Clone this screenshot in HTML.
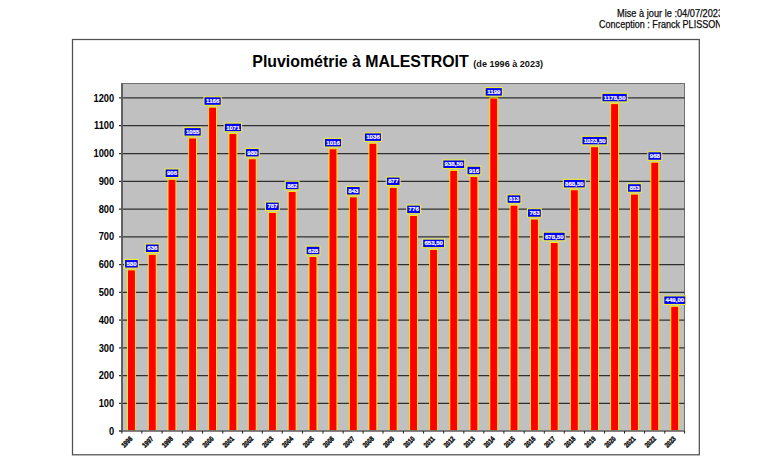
<!DOCTYPE html><html><head><meta charset="utf-8"><style>html,body{margin:0;padding:0;background:#fff;width:768px;height:464px;overflow:hidden;position:relative}svg{display:block;position:absolute;left:0;top:0;font-family:"Liberation Sans",sans-serif}.hdr{position:absolute;left:560px;top:0;width:160.2px;height:40px;overflow:hidden;font-family:"Liberation Sans",sans-serif;font-size:10.2px;line-height:12px;color:#000;-webkit-text-stroke:0.25px #222;white-space:nowrap;z-index:2}.hdr div{position:absolute;transform-origin:0 0;transform:scaleX(0.9)}</style></head><body><svg width="768" height="464" viewBox="0 0 768 464"><rect x="72.5" y="39.5" width="626.8" height="415.3" fill="none" stroke="#505050" stroke-width="1.25"/><text x="252.3" y="66.9" font-size="15.9" font-weight="bold" fill="#000">Pluviométrie à MALESTROIT</text><text x="473.3" y="66.8" font-size="9.1" font-weight="bold" fill="#111">(de 1996 à 2023)</text><defs><clipPath id="pc"><rect x="0" y="0" width="768" height="430.6"/></clipPath></defs><rect x="121.5" y="83.5" width="563.0" height="347.5" fill="#C0C0C0" stroke="#707070" stroke-width="1"/><line x1="119" y1="403.48" x2="684.5" y2="403.48" stroke="#303030" stroke-width="1.25"/><text transform="translate(114.2,407.12) scale(0.93,1)" font-size="10" font-weight="bold" text-anchor="end" fill="#000">100</text><line x1="119" y1="375.70" x2="684.5" y2="375.70" stroke="#303030" stroke-width="1.25"/><text transform="translate(114.2,379.35) scale(0.93,1)" font-size="10" font-weight="bold" text-anchor="end" fill="#000">200</text><line x1="119" y1="347.93" x2="684.5" y2="347.93" stroke="#303030" stroke-width="1.25"/><text transform="translate(114.2,351.57) scale(0.93,1)" font-size="10" font-weight="bold" text-anchor="end" fill="#000">300</text><line x1="119" y1="320.15" x2="684.5" y2="320.15" stroke="#303030" stroke-width="1.25"/><text transform="translate(114.2,323.80) scale(0.93,1)" font-size="10" font-weight="bold" text-anchor="end" fill="#000">400</text><line x1="119" y1="292.38" x2="684.5" y2="292.38" stroke="#303030" stroke-width="1.25"/><text transform="translate(114.2,296.02) scale(0.93,1)" font-size="10" font-weight="bold" text-anchor="end" fill="#000">500</text><line x1="119" y1="264.60" x2="684.5" y2="264.60" stroke="#303030" stroke-width="1.25"/><text transform="translate(114.2,268.25) scale(0.93,1)" font-size="10" font-weight="bold" text-anchor="end" fill="#000">600</text><line x1="119" y1="236.82" x2="684.5" y2="236.82" stroke="#303030" stroke-width="1.25"/><text transform="translate(114.2,240.47) scale(0.93,1)" font-size="10" font-weight="bold" text-anchor="end" fill="#000">700</text><line x1="119" y1="209.05" x2="684.5" y2="209.05" stroke="#303030" stroke-width="1.25"/><text transform="translate(114.2,212.70) scale(0.93,1)" font-size="10" font-weight="bold" text-anchor="end" fill="#000">800</text><line x1="119" y1="181.28" x2="684.5" y2="181.28" stroke="#303030" stroke-width="1.25"/><text transform="translate(114.2,184.93) scale(0.93,1)" font-size="10" font-weight="bold" text-anchor="end" fill="#000">900</text><line x1="119" y1="153.50" x2="684.5" y2="153.50" stroke="#303030" stroke-width="1.25"/><text transform="translate(114.2,157.15) scale(0.93,1)" font-size="10" font-weight="bold" text-anchor="end" fill="#000">1000</text><line x1="119" y1="125.73" x2="684.5" y2="125.73" stroke="#303030" stroke-width="1.25"/><text transform="translate(114.2,129.38) scale(0.93,1)" font-size="10" font-weight="bold" text-anchor="end" fill="#000">1100</text><line x1="119" y1="97.95" x2="684.5" y2="97.95" stroke="#303030" stroke-width="1.25"/><text transform="translate(114.2,101.60) scale(0.93,1)" font-size="10" font-weight="bold" text-anchor="end" fill="#000">1200</text><text transform="translate(114.2,434.90) scale(0.93,1)" font-size="10" font-weight="bold" text-anchor="end" fill="#000">0</text><rect x="127.50" y="269.90" width="7.9" height="166.10" fill="#FF0000" stroke="#FFF500" stroke-width="0.9" clip-path="url(#pc)"/><rect x="148.30" y="254.35" width="7.9" height="181.65" fill="#FF0000" stroke="#FFF500" stroke-width="0.9" clip-path="url(#pc)"/><rect x="168.02" y="179.36" width="7.9" height="256.64" fill="#FF0000" stroke="#FFF500" stroke-width="0.9" clip-path="url(#pc)"/><rect x="188.65" y="137.97" width="7.9" height="298.03" fill="#FF0000" stroke="#FFF500" stroke-width="0.9" clip-path="url(#pc)"/><rect x="208.65" y="107.14" width="7.9" height="328.86" fill="#FF0000" stroke="#FFF500" stroke-width="0.9" clip-path="url(#pc)"/><rect x="228.95" y="133.53" width="7.9" height="302.47" fill="#FF0000" stroke="#FFF500" stroke-width="0.9" clip-path="url(#pc)"/><rect x="248.30" y="158.81" width="7.9" height="277.19" fill="#FF0000" stroke="#FFF500" stroke-width="0.9" clip-path="url(#pc)"/><rect x="268.45" y="212.41" width="7.9" height="223.59" fill="#FF0000" stroke="#FFF500" stroke-width="0.9" clip-path="url(#pc)"/><rect x="288.20" y="191.58" width="7.9" height="244.42" fill="#FF0000" stroke="#FFF500" stroke-width="0.9" clip-path="url(#pc)"/><rect x="309.05" y="256.57" width="7.9" height="179.43" fill="#FF0000" stroke="#FFF500" stroke-width="0.9" clip-path="url(#pc)"/><rect x="329.05" y="148.81" width="7.9" height="287.19" fill="#FF0000" stroke="#FFF500" stroke-width="0.9" clip-path="url(#pc)"/><rect x="349.35" y="196.86" width="7.9" height="239.14" fill="#FF0000" stroke="#FFF500" stroke-width="0.9" clip-path="url(#pc)"/><rect x="368.95" y="143.25" width="7.9" height="292.75" fill="#FF0000" stroke="#FFF500" stroke-width="0.9" clip-path="url(#pc)"/><rect x="389.25" y="187.41" width="7.9" height="248.59" fill="#FF0000" stroke="#FFF500" stroke-width="0.9" clip-path="url(#pc)"/><rect x="409.65" y="215.47" width="7.9" height="220.53" fill="#FF0000" stroke="#FFF500" stroke-width="0.9" clip-path="url(#pc)"/><rect x="429.65" y="249.49" width="7.9" height="186.51" fill="#FF0000" stroke="#FFF500" stroke-width="0.9" clip-path="url(#pc)"/><rect x="449.80" y="170.33" width="7.9" height="265.67" fill="#FF0000" stroke="#FFF500" stroke-width="0.9" clip-path="url(#pc)"/><rect x="469.95" y="176.58" width="7.9" height="259.42" fill="#FF0000" stroke="#FFF500" stroke-width="0.9" clip-path="url(#pc)"/><rect x="489.80" y="97.98" width="7.9" height="338.02" fill="#FF0000" stroke="#FFF500" stroke-width="0.9" clip-path="url(#pc)"/><rect x="510.05" y="205.19" width="7.9" height="230.81" fill="#FF0000" stroke="#FFF500" stroke-width="0.9" clip-path="url(#pc)"/><rect x="530.45" y="219.08" width="7.9" height="216.92" fill="#FF0000" stroke="#FFF500" stroke-width="0.9" clip-path="url(#pc)"/><rect x="550.25" y="242.55" width="7.9" height="193.45" fill="#FF0000" stroke="#FFF500" stroke-width="0.9" clip-path="url(#pc)"/><rect x="570.35" y="189.77" width="7.9" height="246.23" fill="#FF0000" stroke="#FFF500" stroke-width="0.9" clip-path="url(#pc)"/><rect x="590.65" y="146.72" width="7.9" height="289.28" fill="#FF0000" stroke="#FFF500" stroke-width="0.9" clip-path="url(#pc)"/><rect x="610.65" y="103.67" width="7.9" height="332.33" fill="#FF0000" stroke="#FFF500" stroke-width="0.9" clip-path="url(#pc)"/><rect x="630.45" y="194.08" width="7.9" height="241.92" fill="#FF0000" stroke="#FFF500" stroke-width="0.9" clip-path="url(#pc)"/><rect x="650.85" y="162.14" width="7.9" height="273.86" fill="#FF0000" stroke="#FFF500" stroke-width="0.9" clip-path="url(#pc)"/><rect x="670.80" y="306.29" width="7.9" height="129.71" fill="#FF0000" stroke="#FFF500" stroke-width="0.9" clip-path="url(#pc)"/><line x1="122.1" y1="83.5" x2="122.1" y2="431.8" stroke="#606060" stroke-width="1.8"/><line x1="121.5" y1="431.0" x2="685.0" y2="431.0" stroke="#707070" stroke-width="1.6"/><line x1="119" y1="431.0" x2="121.5" y2="431.0" stroke="#303030" stroke-width="1.5"/><line x1="121.90" y1="431.0" x2="121.90" y2="433.6" stroke="#202020" stroke-width="1"/><line x1="141.85" y1="431.0" x2="141.85" y2="433.6" stroke="#202020" stroke-width="1"/><line x1="162.11" y1="431.0" x2="162.11" y2="433.6" stroke="#202020" stroke-width="1"/><line x1="182.28" y1="431.0" x2="182.28" y2="433.6" stroke="#202020" stroke-width="1"/><line x1="202.60" y1="431.0" x2="202.60" y2="433.6" stroke="#202020" stroke-width="1"/><line x1="222.75" y1="431.0" x2="222.75" y2="433.6" stroke="#202020" stroke-width="1"/><line x1="242.57" y1="431.0" x2="242.57" y2="433.6" stroke="#202020" stroke-width="1"/><line x1="262.32" y1="431.0" x2="262.32" y2="433.6" stroke="#202020" stroke-width="1"/><line x1="282.27" y1="431.0" x2="282.27" y2="433.6" stroke="#202020" stroke-width="1"/><line x1="302.57" y1="431.0" x2="302.57" y2="433.6" stroke="#202020" stroke-width="1"/><line x1="323.00" y1="431.0" x2="323.00" y2="433.6" stroke="#202020" stroke-width="1"/><line x1="343.15" y1="431.0" x2="343.15" y2="433.6" stroke="#202020" stroke-width="1"/><line x1="363.10" y1="431.0" x2="363.10" y2="433.6" stroke="#202020" stroke-width="1"/><line x1="383.05" y1="431.0" x2="383.05" y2="433.6" stroke="#202020" stroke-width="1"/><line x1="403.40" y1="431.0" x2="403.40" y2="433.6" stroke="#202020" stroke-width="1"/><line x1="423.60" y1="431.0" x2="423.60" y2="433.6" stroke="#202020" stroke-width="1"/><line x1="443.68" y1="431.0" x2="443.68" y2="433.6" stroke="#202020" stroke-width="1"/><line x1="463.82" y1="431.0" x2="463.82" y2="433.6" stroke="#202020" stroke-width="1"/><line x1="483.82" y1="431.0" x2="483.82" y2="433.6" stroke="#202020" stroke-width="1"/><line x1="503.88" y1="431.0" x2="503.88" y2="433.6" stroke="#202020" stroke-width="1"/><line x1="524.20" y1="431.0" x2="524.20" y2="433.6" stroke="#202020" stroke-width="1"/><line x1="544.30" y1="431.0" x2="544.30" y2="433.6" stroke="#202020" stroke-width="1"/><line x1="564.25" y1="431.0" x2="564.25" y2="433.6" stroke="#202020" stroke-width="1"/><line x1="584.45" y1="431.0" x2="584.45" y2="433.6" stroke="#202020" stroke-width="1"/><line x1="604.60" y1="431.0" x2="604.60" y2="433.6" stroke="#202020" stroke-width="1"/><line x1="624.50" y1="431.0" x2="624.50" y2="433.6" stroke="#202020" stroke-width="1"/><line x1="644.60" y1="431.0" x2="644.60" y2="433.6" stroke="#202020" stroke-width="1"/><line x1="664.77" y1="431.0" x2="664.77" y2="433.6" stroke="#202020" stroke-width="1"/><line x1="684.60" y1="431.0" x2="684.60" y2="433.6" stroke="#202020" stroke-width="1"/><rect x="124.52" y="259.50" width="13.85" height="8.6" fill="#0000FF" stroke="#EEEE30" stroke-width="1.1"/><text x="131.55" y="265.90" font-size="6.1" font-weight="bold" text-anchor="middle" fill="#fff" stroke="#fff" stroke-width="0.2">580</text><text transform="translate(133.05,439.20) rotate(-45) scale(0.9,1.12)" font-size="6.3" font-weight="bold" text-anchor="end" fill="#111" stroke="#111" stroke-width="0.4">1996</text><rect x="145.32" y="243.95" width="13.85" height="8.6" fill="#0000FF" stroke="#EEEE30" stroke-width="1.1"/><text x="152.35" y="250.35" font-size="6.1" font-weight="bold" text-anchor="middle" fill="#fff" stroke="#fff" stroke-width="0.2">636</text><text transform="translate(153.85,439.20) rotate(-45) scale(0.9,1.12)" font-size="6.3" font-weight="bold" text-anchor="end" fill="#111" stroke="#111" stroke-width="0.4">1997</text><rect x="165.04" y="168.96" width="13.85" height="8.6" fill="#0000FF" stroke="#EEEE30" stroke-width="1.1"/><text x="172.07" y="175.36" font-size="6.1" font-weight="bold" text-anchor="middle" fill="#fff" stroke="#fff" stroke-width="0.2">906</text><text transform="translate(173.57,439.20) rotate(-45) scale(0.9,1.12)" font-size="6.3" font-weight="bold" text-anchor="end" fill="#111" stroke="#111" stroke-width="0.4">1998</text><rect x="183.95" y="127.57" width="17.30" height="8.6" fill="#0000FF" stroke="#EEEE30" stroke-width="1.1"/><text x="192.70" y="133.97" font-size="6.1" font-weight="bold" text-anchor="middle" fill="#fff" stroke="#fff" stroke-width="0.2">1055</text><text transform="translate(194.20,439.20) rotate(-45) scale(0.9,1.12)" font-size="6.3" font-weight="bold" text-anchor="end" fill="#111" stroke="#111" stroke-width="0.4">1999</text><rect x="203.95" y="96.74" width="17.30" height="8.6" fill="#0000FF" stroke="#EEEE30" stroke-width="1.1"/><text x="212.70" y="103.14" font-size="6.1" font-weight="bold" text-anchor="middle" fill="#fff" stroke="#fff" stroke-width="0.2">1166</text><text transform="translate(214.20,439.20) rotate(-45) scale(0.9,1.12)" font-size="6.3" font-weight="bold" text-anchor="end" fill="#111" stroke="#111" stroke-width="0.4">2000</text><rect x="224.25" y="123.13" width="17.30" height="8.6" fill="#0000FF" stroke="#EEEE30" stroke-width="1.1"/><text x="233.00" y="129.53" font-size="6.1" font-weight="bold" text-anchor="middle" fill="#fff" stroke="#fff" stroke-width="0.2">1071</text><text transform="translate(234.50,439.20) rotate(-45) scale(0.9,1.12)" font-size="6.3" font-weight="bold" text-anchor="end" fill="#111" stroke="#111" stroke-width="0.4">2001</text><rect x="245.32" y="148.41" width="13.85" height="8.6" fill="#0000FF" stroke="#EEEE30" stroke-width="1.1"/><text x="252.35" y="154.81" font-size="6.1" font-weight="bold" text-anchor="middle" fill="#fff" stroke="#fff" stroke-width="0.2">980</text><text transform="translate(253.85,439.20) rotate(-45) scale(0.9,1.12)" font-size="6.3" font-weight="bold" text-anchor="end" fill="#111" stroke="#111" stroke-width="0.4">2002</text><rect x="265.47" y="202.01" width="13.85" height="8.6" fill="#0000FF" stroke="#EEEE30" stroke-width="1.1"/><text x="272.50" y="208.41" font-size="6.1" font-weight="bold" text-anchor="middle" fill="#fff" stroke="#fff" stroke-width="0.2">787</text><text transform="translate(274.00,439.20) rotate(-45) scale(0.9,1.12)" font-size="6.3" font-weight="bold" text-anchor="end" fill="#111" stroke="#111" stroke-width="0.4">2003</text><rect x="285.22" y="181.18" width="13.85" height="8.6" fill="#0000FF" stroke="#EEEE30" stroke-width="1.1"/><text x="292.25" y="187.58" font-size="6.1" font-weight="bold" text-anchor="middle" fill="#fff" stroke="#fff" stroke-width="0.2">862</text><text transform="translate(293.75,439.20) rotate(-45) scale(0.9,1.12)" font-size="6.3" font-weight="bold" text-anchor="end" fill="#111" stroke="#111" stroke-width="0.4">2004</text><rect x="306.07" y="246.17" width="13.85" height="8.6" fill="#0000FF" stroke="#EEEE30" stroke-width="1.1"/><text x="313.10" y="252.57" font-size="6.1" font-weight="bold" text-anchor="middle" fill="#fff" stroke="#fff" stroke-width="0.2">628</text><text transform="translate(314.60,439.20) rotate(-45) scale(0.9,1.12)" font-size="6.3" font-weight="bold" text-anchor="end" fill="#111" stroke="#111" stroke-width="0.4">2005</text><rect x="324.35" y="138.41" width="17.30" height="8.6" fill="#0000FF" stroke="#EEEE30" stroke-width="1.1"/><text x="333.10" y="144.81" font-size="6.1" font-weight="bold" text-anchor="middle" fill="#fff" stroke="#fff" stroke-width="0.2">1016</text><text transform="translate(334.60,439.20) rotate(-45) scale(0.9,1.12)" font-size="6.3" font-weight="bold" text-anchor="end" fill="#111" stroke="#111" stroke-width="0.4">2006</text><rect x="346.38" y="186.46" width="13.85" height="8.6" fill="#0000FF" stroke="#EEEE30" stroke-width="1.1"/><text x="353.40" y="192.86" font-size="6.1" font-weight="bold" text-anchor="middle" fill="#fff" stroke="#fff" stroke-width="0.2">843</text><text transform="translate(354.90,439.20) rotate(-45) scale(0.9,1.12)" font-size="6.3" font-weight="bold" text-anchor="end" fill="#111" stroke="#111" stroke-width="0.4">2007</text><rect x="364.25" y="132.85" width="17.30" height="8.6" fill="#0000FF" stroke="#EEEE30" stroke-width="1.1"/><text x="373.00" y="139.25" font-size="6.1" font-weight="bold" text-anchor="middle" fill="#fff" stroke="#fff" stroke-width="0.2">1036</text><text transform="translate(374.50,439.20) rotate(-45) scale(0.9,1.12)" font-size="6.3" font-weight="bold" text-anchor="end" fill="#111" stroke="#111" stroke-width="0.4">2008</text><rect x="386.27" y="177.01" width="13.85" height="8.6" fill="#0000FF" stroke="#EEEE30" stroke-width="1.1"/><text x="393.30" y="183.41" font-size="6.1" font-weight="bold" text-anchor="middle" fill="#fff" stroke="#fff" stroke-width="0.2">877</text><text transform="translate(394.80,439.20) rotate(-45) scale(0.9,1.12)" font-size="6.3" font-weight="bold" text-anchor="end" fill="#111" stroke="#111" stroke-width="0.4">2009</text><rect x="406.68" y="205.07" width="13.85" height="8.6" fill="#0000FF" stroke="#EEEE30" stroke-width="1.1"/><text x="413.70" y="211.47" font-size="6.1" font-weight="bold" text-anchor="middle" fill="#fff" stroke="#fff" stroke-width="0.2">776</text><text transform="translate(415.20,439.20) rotate(-45) scale(0.9,1.12)" font-size="6.3" font-weight="bold" text-anchor="end" fill="#111" stroke="#111" stroke-width="0.4">2010</text><rect x="422.62" y="239.09" width="21.95" height="8.6" fill="#0000FF" stroke="#EEEE30" stroke-width="1.1"/><text x="433.70" y="245.49" font-size="6.1" font-weight="bold" text-anchor="middle" fill="#fff" stroke="#fff" stroke-width="0.2">653,50</text><text transform="translate(435.20,439.20) rotate(-45) scale(0.9,1.12)" font-size="6.3" font-weight="bold" text-anchor="end" fill="#111" stroke="#111" stroke-width="0.4">2011</text><rect x="442.77" y="159.93" width="21.95" height="8.6" fill="#0000FF" stroke="#EEEE30" stroke-width="1.1"/><text x="453.85" y="166.33" font-size="6.1" font-weight="bold" text-anchor="middle" fill="#fff" stroke="#fff" stroke-width="0.2">938,50</text><text transform="translate(455.35,439.20) rotate(-45) scale(0.9,1.12)" font-size="6.3" font-weight="bold" text-anchor="end" fill="#111" stroke="#111" stroke-width="0.4">2012</text><rect x="466.97" y="166.18" width="13.85" height="8.6" fill="#0000FF" stroke="#EEEE30" stroke-width="1.1"/><text x="474.00" y="172.58" font-size="6.1" font-weight="bold" text-anchor="middle" fill="#fff" stroke="#fff" stroke-width="0.2">916</text><text transform="translate(475.50,439.20) rotate(-45) scale(0.9,1.12)" font-size="6.3" font-weight="bold" text-anchor="end" fill="#111" stroke="#111" stroke-width="0.4">2013</text><rect x="485.10" y="87.58" width="17.30" height="8.6" fill="#0000FF" stroke="#EEEE30" stroke-width="1.1"/><text x="493.85" y="93.98" font-size="6.1" font-weight="bold" text-anchor="middle" fill="#fff" stroke="#fff" stroke-width="0.2">1199</text><text transform="translate(495.35,439.20) rotate(-45) scale(0.9,1.12)" font-size="6.3" font-weight="bold" text-anchor="end" fill="#111" stroke="#111" stroke-width="0.4">2014</text><rect x="507.07" y="194.79" width="13.85" height="8.6" fill="#0000FF" stroke="#EEEE30" stroke-width="1.1"/><text x="514.10" y="201.19" font-size="6.1" font-weight="bold" text-anchor="middle" fill="#fff" stroke="#fff" stroke-width="0.2">813</text><text transform="translate(515.60,439.20) rotate(-45) scale(0.9,1.12)" font-size="6.3" font-weight="bold" text-anchor="end" fill="#111" stroke="#111" stroke-width="0.4">2015</text><rect x="527.48" y="208.68" width="13.85" height="8.6" fill="#0000FF" stroke="#EEEE30" stroke-width="1.1"/><text x="534.50" y="215.08" font-size="6.1" font-weight="bold" text-anchor="middle" fill="#fff" stroke="#fff" stroke-width="0.2">763</text><text transform="translate(536.00,439.20) rotate(-45) scale(0.9,1.12)" font-size="6.3" font-weight="bold" text-anchor="end" fill="#111" stroke="#111" stroke-width="0.4">2016</text><rect x="543.23" y="232.15" width="21.95" height="8.6" fill="#0000FF" stroke="#EEEE30" stroke-width="1.1"/><text x="554.30" y="238.55" font-size="6.1" font-weight="bold" text-anchor="middle" fill="#fff" stroke="#fff" stroke-width="0.2">678,50</text><text transform="translate(555.80,439.20) rotate(-45) scale(0.9,1.12)" font-size="6.3" font-weight="bold" text-anchor="end" fill="#111" stroke="#111" stroke-width="0.4">2017</text><rect x="563.32" y="179.37" width="21.95" height="8.6" fill="#0000FF" stroke="#EEEE30" stroke-width="1.1"/><text x="574.40" y="185.77" font-size="6.1" font-weight="bold" text-anchor="middle" fill="#fff" stroke="#fff" stroke-width="0.2">868,50</text><text transform="translate(575.90,439.20) rotate(-45) scale(0.9,1.12)" font-size="6.3" font-weight="bold" text-anchor="end" fill="#111" stroke="#111" stroke-width="0.4">2018</text><rect x="581.90" y="136.32" width="25.40" height="8.6" fill="#0000FF" stroke="#EEEE30" stroke-width="1.1"/><text x="594.70" y="142.72" font-size="6.1" font-weight="bold" text-anchor="middle" fill="#fff" stroke="#fff" stroke-width="0.2">1023,50</text><text transform="translate(596.20,439.20) rotate(-45) scale(0.9,1.12)" font-size="6.3" font-weight="bold" text-anchor="end" fill="#111" stroke="#111" stroke-width="0.4">2019</text><rect x="601.90" y="93.27" width="25.40" height="8.6" fill="#0000FF" stroke="#EEEE30" stroke-width="1.1"/><text x="614.70" y="99.67" font-size="6.1" font-weight="bold" text-anchor="middle" fill="#fff" stroke="#fff" stroke-width="0.2">1178,50</text><text transform="translate(616.20,439.20) rotate(-45) scale(0.9,1.12)" font-size="6.3" font-weight="bold" text-anchor="end" fill="#111" stroke="#111" stroke-width="0.4">2020</text><rect x="627.48" y="183.68" width="13.85" height="8.6" fill="#0000FF" stroke="#EEEE30" stroke-width="1.1"/><text x="634.50" y="190.08" font-size="6.1" font-weight="bold" text-anchor="middle" fill="#fff" stroke="#fff" stroke-width="0.2">853</text><text transform="translate(636.00,439.20) rotate(-45) scale(0.9,1.12)" font-size="6.3" font-weight="bold" text-anchor="end" fill="#111" stroke="#111" stroke-width="0.4">2021</text><rect x="647.88" y="151.74" width="13.85" height="8.6" fill="#0000FF" stroke="#EEEE30" stroke-width="1.1"/><text x="654.90" y="158.14" font-size="6.1" font-weight="bold" text-anchor="middle" fill="#fff" stroke="#fff" stroke-width="0.2">968</text><text transform="translate(656.40,439.20) rotate(-45) scale(0.9,1.12)" font-size="6.3" font-weight="bold" text-anchor="end" fill="#111" stroke="#111" stroke-width="0.4">2022</text><rect x="663.77" y="295.89" width="21.95" height="8.6" fill="#0000FF" stroke="#EEEE30" stroke-width="1.1"/><text x="674.85" y="302.29" font-size="6.1" font-weight="bold" text-anchor="middle" fill="#fff" stroke="#fff" stroke-width="0.2">449,00</text><text transform="translate(676.35,439.20) rotate(-45) scale(0.9,1.12)" font-size="6.3" font-weight="bold" text-anchor="end" fill="#111" stroke="#111" stroke-width="0.4">2023</text></svg><div class="hdr"><div style="left:57.4px;top:8.4px;transform:scaleX(0.905)">Mise à jour le :04/07/2023</div><div style="left:39.3px;top:18.8px;transform:scaleX(0.889)">Conception : Franck PLISSON</div></div></body></html>
